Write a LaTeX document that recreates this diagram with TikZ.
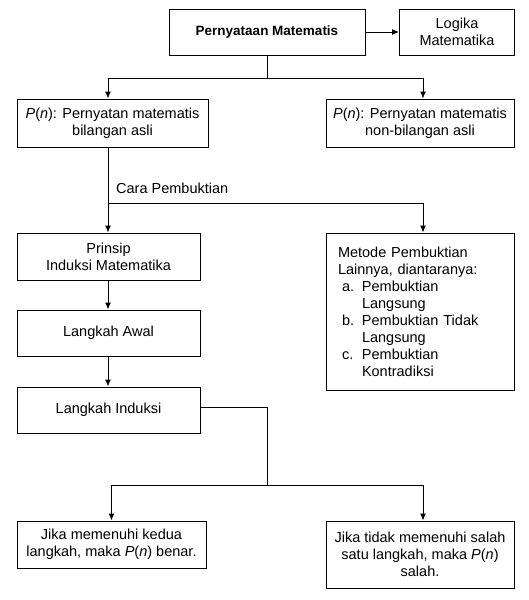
\documentclass[tikz,border=0pt]{standalone}
\usepackage{fontspec}
\setmainfont{Liberation Sans}
\usetikzlibrary{arrows.meta}
\begin{document}
\begin{tikzpicture}[x=1pt,y=-1pt,
  box/.style={draw, line width=1pt, inner sep=0pt, align=center, font=\fontsize{14.5}{17}\selectfont},
  conn/.style={line width=1pt},
  arr/.style={conn, -{Latex[length=7pt,width=6pt]}},
  lbl/.style={font=\fontsize{14.5}{17}\selectfont, inner sep=0pt, anchor=west}]
\useasboundingbox (0,0) rectangle (529,600);
% nodes
\node[box, minimum width=196pt, minimum height=46pt, font=\fontsize{13.5}{17}\selectfont\bfseries] (top) at (267,32) {Pernyataan Matematis};
\node[box, minimum width=115pt, minimum height=46pt] (log) at (457,32) {Logika\\Matematika};
\node[box, minimum width=191pt, minimum height=48pt] (pl) at (112.5,123) {\textit{P}(\textit{n}): Pernyatan matematis\\bilangan asli};
\node[box, minimum width=188pt, minimum height=48pt] (pr) at (420,123) {\textit{P}(\textit{n}): Pernyatan matematis\\non-bilangan asli};
\node[lbl] (cara) at (116,188) {Cara Pembuktian};
\node[box, minimum width=183pt, minimum height=47pt] (prin) at (108.5,256.5) {Prinsip\\Induksi Matematika};
\node[box, minimum width=183pt, minimum height=46pt] (awal) at (108.5,333) {Langkah Awal};
\node[box, minimum width=183pt, minimum height=46pt] (ind) at (108.5,410) {Langkah Induksi};
\node[box, minimum width=188pt, minimum height=157pt, text width=164pt, align=left] (met) at (420,311.5) {%
Metode Pembuktian\\
Lainnya, diantaranya:\\
\hspace*{4pt}\makebox[20pt][l]{a.}Pembuktian\\
\hspace*{24pt}Langsung\\
\hspace*{4pt}\makebox[20pt][l]{b.}Pembuktian Tidak\\
\hspace*{24pt}Langsung\\
\hspace*{4pt}\makebox[20pt][l]{c.}Pembuktian\\
\hspace*{24pt}Kontradiksi};
\node[box, minimum width=189pt, minimum height=47pt] (bl) at (111.5,544.5) {Jika memenuhi kedua\\langkah, maka \textit{P}(\textit{n}) benar.};
\node[box, minimum width=188pt, minimum height=67pt] (br) at (420,554.5) {Jika tidak memenuhi salah\\satu langkah, maka \textit{P}(\textit{n})\\salah.};
% junction coordinates
\coordinate (j1) at (267,78);
\coordinate (j2) at (108,203);
\coordinate (j3) at (267,485);
% connectors
\draw[arr] (top.east) -- (log.west);
\draw[conn] (top.south) -- (j1);
\draw[arr] (j1) -| ([xshift=-4.5pt]pl.north);
\draw[arr] (j1) -| ([xshift=3pt]pr.north);
\draw[conn] ([xshift=-4.5pt]pl.south) -- (j2);
\draw[arr] (j2) -- (prin.north -| j2);
\draw[arr] (j2) -| ([xshift=3pt]met.north);
\draw[arr] (prin.south -| j2) -- (awal.north -| j2);
\draw[arr] (awal.south -| j2) -- (ind.north -| j2);
\draw[conn] ([yshift=3pt]ind.east) -| (j3);
\draw[arr] (j3) -| (bl.north);
\draw[arr] (j3) -| ([xshift=3pt]br.north);
\end{tikzpicture}
\end{document}
